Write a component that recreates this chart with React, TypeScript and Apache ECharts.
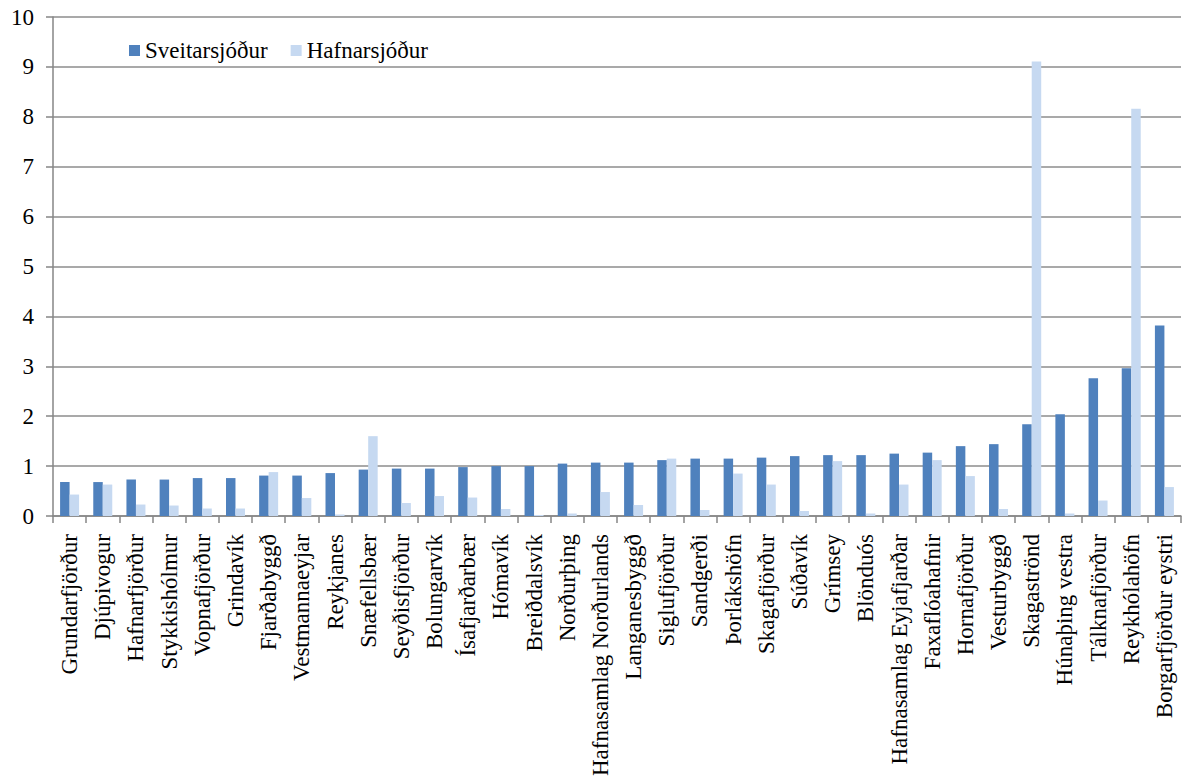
import React, { useEffect, useRef } from "react";
import * as echarts from "echarts";

const categories: string[] = [
  "Grundarfjörður", "Djúpivogur", "Hafnarfjörður", "Stykkishólmur", "Vopnafjörður",
  "Grindavík", "Fjarðabyggð", "Vestmannaeyjar", "Reykjanes", "Snæfellsbær",
  "Seyðisfjörður", "Bolungarvík", "Ísafjarðarbær", "Hómavík", "Breiðdalsvík",
  "Norðurþing", "Hafnasamlag Norðurlands", "Langanesbyggð", "Siglufjörður", "Sandgerði",
  "Þorlákshöfn", "Skagafjörður", "Súðavík", "Grímsey", "Blönduós",
  "Hafnasamlag Eyjafjarðar", "Faxaflóahafnir", "Hornafjörður", "Vesturbyggð", "Skagaströnd",
  "Húnaþing vestra", "Tálknafjörður", "Reykhólahöfn", "Borgarfjörður eystri",
];

const sveitarsjodur: number[] = [
  0.68, 0.68, 0.73, 0.73, 0.76, 0.76, 0.81, 0.81, 0.86, 0.93,
  0.95, 0.95, 0.98, 1.0, 1.0, 1.05, 1.07, 1.07, 1.12, 1.15,
  1.15, 1.17, 1.2, 1.22, 1.22, 1.25, 1.27, 1.4, 1.44, 1.84,
  2.04, 2.76, 2.96, 3.82,
];

const hafnarsjodur: number[] = [
  0.43, 0.63, 0.23, 0.21, 0.15, 0.15, 0.88, 0.36, 0.03, 1.6,
  0.26, 0.4, 0.37, 0.14, 0.02, 0.05, 0.48, 0.22, 1.15, 0.12,
  0.85, 0.63, 0.1, 1.1, 0.05, 0.63, 1.12, 0.8, 0.14, 9.11,
  0.05, 0.31, 8.16, 0.58,
];

const seriesNames: string[] = ["Sveitarsjóður", "Hafnarsjóður"];

const FONT = "Liberation Serif";

export default function App() {
  const ref = useRef<HTMLDivElement>(null);

  useEffect(() => {
    if (!ref.current) return;
    const chart = echarts.init(ref.current, null, { renderer: "svg" });
    chart.setOption({
      animation: false,
      backgroundColor: "#ffffff",
      textStyle: { fontFamily: FONT, fontSize: 23, color: "#000" },
      legend: {
        left: 124,
        top: 34,
        itemWidth: 11,
        itemHeight: 11,
        itemGap: 23,
        icon: "rect",
        textStyle: { fontFamily: FONT, fontSize: 23, color: "#000" },
        data: seriesNames,
      },
      grid: { left: 53, right: 1, top: 17, bottom: 267, containLabel: false },
      xAxis: {
        type: "category",
        data: categories,
        axisLine: { lineStyle: { color: "#868686", width: 1.5 } },
        axisTick: { show: true, interval: 0, length: 7, lineStyle: { color: "#868686", width: 1.5 } },
        axisLabel: {
          interval: 0,
          rotate: 90,
          fontFamily: FONT,
          fontSize: 23,
          color: "#000",
          margin: 18,
        },
      },
      yAxis: {
        type: "value",
        min: 0,
        max: 10,
        interval: 1,
        axisLine: { show: true, lineStyle: { color: "#868686", width: 1.5 } },
        axisTick: { show: true, length: 7, lineStyle: { color: "#868686", width: 1.5 } },
        axisLabel: { fontFamily: FONT, fontSize: 23, color: "#000", margin: 19 },
        splitLine: { show: true, lineStyle: { color: "#8c8c8c", width: 1.5 } },
      },
      series: [
        {
          name: seriesNames[0],
          type: "bar",
          data: sveitarsjodur,
          barWidth: 9.5,
          barGap: "0%",
          itemStyle: { color: "#4F81BD" },
        },
        {
          name: seriesNames[1],
          type: "bar",
          data: hafnarsjodur,
          barWidth: 9.5,
          barGap: "0%",
          itemStyle: { color: "#C6D9F1" },
        },
      ],
    });
    return () => chart.dispose();
  }, []);

  return (
    <div
      ref={ref}
      style={{ position: "fixed", left: 0, top: 0, width: 1182, height: 783 }}
    />
  );
}
